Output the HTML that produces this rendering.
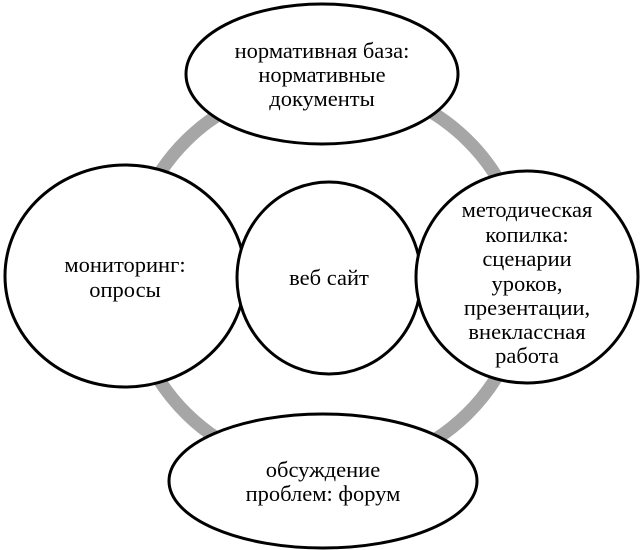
<!DOCTYPE html>
<html><head><meta charset="utf-8"><style>
html,body{margin:0;padding:0;background:#fff;}
svg{display:block;}
text{font-family:"Liberation Serif","DejaVu Serif",serif;font-size:22.5px;fill:#000;text-anchor:middle;}
</style></head><body>
<svg width="640" height="550" viewBox="0 0 640 550" xmlns="http://www.w3.org/2000/svg">
<ellipse cx="327" cy="277" rx="198" ry="194" fill="none" stroke="#a6a6a6" stroke-width="13"/>
<ellipse cx="322" cy="74" rx="136" ry="70" fill="#fff" stroke="#000" stroke-width="3"/>
<ellipse cx="125" cy="276" rx="120" ry="111" fill="#fff" stroke="#000" stroke-width="3"/>
<ellipse cx="329" cy="278" rx="92" ry="96" fill="#fff" stroke="#000" stroke-width="3"/>
<ellipse cx="527" cy="277" rx="111" ry="106" fill="#fff" stroke="#000" stroke-width="3"/>
<ellipse cx="323" cy="481" rx="154" ry="67" fill="#fff" stroke="#000" stroke-width="3"/>
<text x="322" y="58">нормативная база:</text>
<text x="322" y="82">нормативные</text>
<text x="322" y="106">документы</text>
<text x="125" y="272">мониторинг:</text>
<text x="125" y="297">опросы</text>
<text x="329" y="285">веб сайт</text>
<text x="527" y="217">методическая</text>
<text x="527" y="242">копилка:</text>
<text x="527" y="266">сценарии</text>
<text x="527" y="291">уроков,</text>
<text x="527" y="315">презентации,</text>
<text x="527" y="339">внеклассная</text>
<text x="527" y="363">работа</text>
<text x="323" y="477">обсуждение</text>
<text x="323" y="501">проблем: форум</text>
</svg>
</body></html>
